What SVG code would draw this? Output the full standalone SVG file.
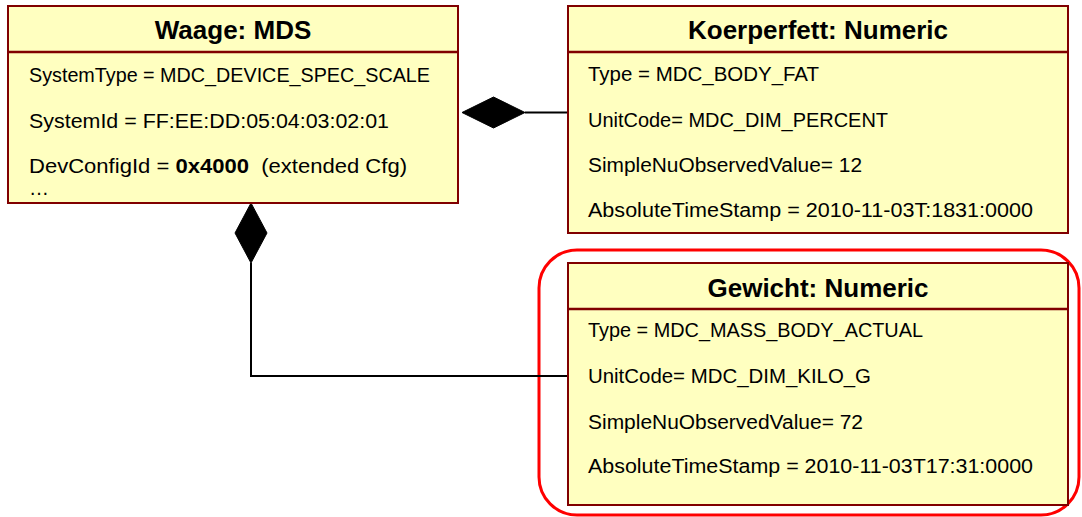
<svg xmlns="http://www.w3.org/2000/svg" width="1082" height="517" viewBox="0 0 1082 517">
  <style>
    .box { fill: #FFFFC0; stroke: #800000; stroke-width: 2; }
    .sep { stroke: #800000; stroke-width: 2.5; }
    .title { font-family: "Liberation Sans", Arial, sans-serif; font-size: 26px; font-weight: bold; fill: #000; text-anchor: middle; }
    .attr { font-family: "Liberation Sans", Arial, sans-serif; font-size: 20px; fill: #000; }
    .conn { fill: none; stroke: #000; stroke-width: 2; }
    .diamond { fill: #000; stroke: #000; stroke-width: 1; }
  </style>

  <!-- highlight around the weight object -->
  <rect id="highlight" x="539" y="250" width="540" height="265" rx="38" ry="38" fill="none" stroke="#FF0000" stroke-width="3"/>

  <!-- composition connectors -->
  <g id="connectors">
    <line class="conn" x1="525" y1="112.5" x2="568" y2="112.5"/>
    <polygon class="diamond" points="462,112.5 493.5,97 525,112.5 493.5,128"/>
    <polyline class="conn" points="251,263 251,376 568,376"/>
    <polygon class="diamond" points="251,203 267,233 251,263 235,233"/>
  </g>

  <g id="waage">
    <rect class="box" x="8" y="6" width="450" height="197"/>
    <line class="sep" x1="8" y1="52" x2="458" y2="52"/>
    <text class="title" x="233" y="39">Waage: MDS</text>
    <text class="attr" x="29" y="82" textLength="401" lengthAdjust="spacingAndGlyphs">SystemType = MDC_DEVICE_SPEC_SCALE</text>
    <text class="attr" x="29" y="128" textLength="360" lengthAdjust="spacingAndGlyphs">SystemId = FF:EE:DD:05:04:03:02:01</text>
    <text class="attr" x="29" y="173" xml:space="preserve" textLength="378" lengthAdjust="spacingAndGlyphs">DevConfigId = <tspan font-weight="bold">0x4000</tspan>  (extended Cfg)</text>
    <text class="attr" x="29" y="195">…</text>
  </g>

  <g id="koerperfett">
    <rect class="box" x="568" y="6" width="500" height="227"/>
    <line class="sep" x1="568" y1="52" x2="1068" y2="52"/>
    <text class="title" x="818" y="39">Koerperfett: Numeric</text>
    <text class="attr" x="588" y="81" textLength="231" lengthAdjust="spacingAndGlyphs">Type = MDC_BODY_FAT</text>
    <text class="attr" x="588" y="127" textLength="300" lengthAdjust="spacingAndGlyphs">UnitCode= MDC_DIM_PERCENT</text>
    <text class="attr" x="588" y="172" textLength="274" lengthAdjust="spacingAndGlyphs">SimpleNuObservedValue= 12</text>
    <text class="attr" x="588" y="217" textLength="445" lengthAdjust="spacingAndGlyphs">AbsoluteTimeStamp = 2010-11-03T:1831:0000</text>
  </g>

  <g id="gewicht">
    <rect class="box" x="568" y="263" width="500" height="242"/>
    <line class="sep" x1="568" y1="309" x2="1068" y2="309"/>
    <text class="title" x="818" y="297">Gewicht: Numeric</text>
    <text class="attr" x="588" y="337" textLength="335" lengthAdjust="spacingAndGlyphs">Type = MDC_MASS_BODY_ACTUAL</text>
    <text class="attr" x="588" y="383" textLength="283" lengthAdjust="spacingAndGlyphs">UnitCode= MDC_DIM_KILO_G</text>
    <text class="attr" x="588" y="429" textLength="275" lengthAdjust="spacingAndGlyphs">SimpleNuObservedValue= 72</text>
    <text class="attr" x="588" y="473" textLength="445" lengthAdjust="spacingAndGlyphs">AbsoluteTimeStamp = 2010-11-03T17:31:0000</text>
  </g>
</svg>
